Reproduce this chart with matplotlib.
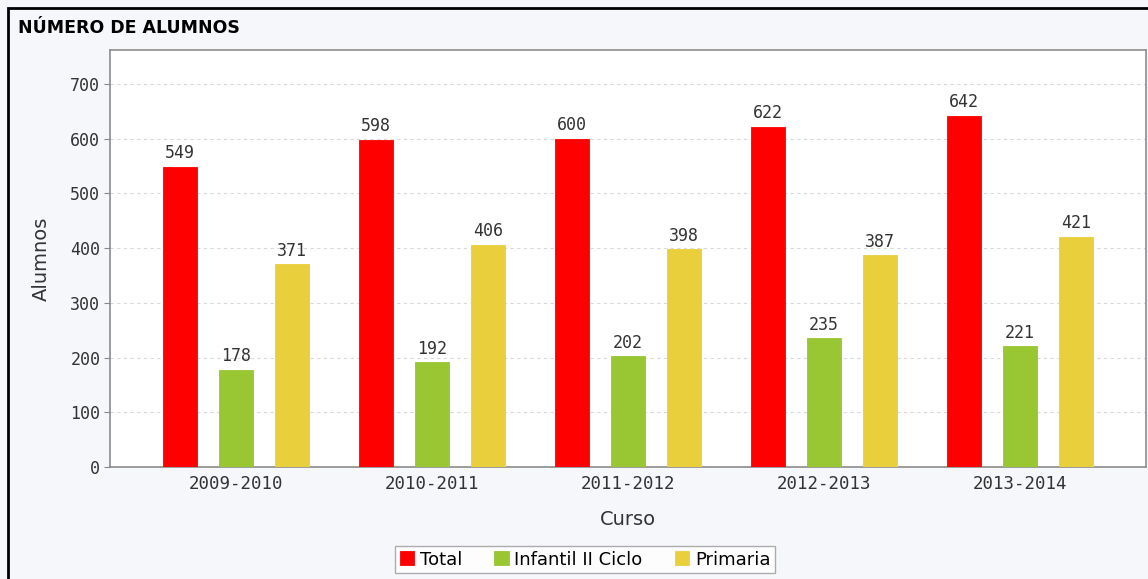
import numpy as np
import matplotlib.pyplot as plt
from matplotlib.patches import Rectangle

cursos = ['2009-2010', '2010-2011', '2011-2012', '2012-2013', '2013-2014']
total = [549, 598, 600, 622, 642]
infantil = [178, 192, 202, 235, 221]
primaria = [371, 406, 398, 387, 421]
series = [('Total', total, '#FF0000'),
          ('Infantil II Ciclo', infantil, '#99C633'),
          ('Primaria', primaria, '#E9CF3C')]

bg = '#F6F7FB'
mono = 'DejaVu Sans Mono'
fig = plt.figure(figsize=(11.48, 5.79), dpi=100, facecolor=bg)
ax = fig.add_axes([110 / 1148, 1 - 467 / 579, 1036 / 1148, 417 / 579])

x = np.arange(len(cursos))
offsets = [-0.285, 0.0, 0.285]
w = 0.174
for (name, vals, col), off in zip(series, offsets):
    bars = ax.bar(x + off, vals, w, color=col, label=name,
                  edgecolor=col, linewidth=0.6, zorder=3)
    for b, v in zip(bars, vals):
        ax.text(b.get_x() + b.get_width() / 2, v + 8, str(v),
                ha='center', va='bottom', fontsize=12, family=mono,
                color='#333333')

ax.set_xlim(-0.643, 4.643)
ax.set_ylim(0, 762)
ax.set_yticks(range(0, 701, 100))
ax.set_xticks(x)
ax.set_xticklabels(cursos, fontsize=12.5, family=mono, color='#333333')
for t in ax.get_yticklabels():
    t.set_family(mono)
ax.tick_params(axis='x', length=0, pad=6)
ax.tick_params(axis='y', length=4, color='#888888', labelsize=12,
               labelcolor='#333333', pad=3)
ax.grid(axis='y', linestyle=(0, (3, 3)), color='#D8D8D8', linewidth=0.8,
        zorder=0)
for s in ax.spines.values():
    s.set_color('#8C8C8C')
    s.set_linewidth(1.2)
ax.set_facecolor('white')

ax.set_ylabel('Alumnos', fontsize=14, color='#333333', labelpad=14)
ax.set_xlabel('Curso', fontsize=14, color='#333333', labelpad=12)

fig.text(18 / 1148, 1 - 28 / 579, 'NÚMERO DE ALUMNOS', fontsize=12.5,
         fontweight='bold', va='center', color='#000000')

# outer frame of the chart panel
fig.patches.append(Rectangle((8 / 1148, -0.1), 1.2, 1 - 8 / 579 + 0.1,
                             transform=fig.transFigure, fill=False,
                             edgecolor='black', linewidth=2))

leg = fig.legend(loc='upper center', bbox_to_anchor=(585 / 1148, 1 - 546 / 579),
                 ncol=3, fontsize=13, frameon=True, fancybox=False,
                 handlelength=0.8, handleheight=0.8, handletextpad=0.3,
                 columnspacing=1.8, borderpad=0.25, borderaxespad=0)
leg.get_frame().set_edgecolor('#999999')
leg.get_frame().set_facecolor('white')
leg.get_frame().set_linewidth(1)

fig.savefig('out.png', dpi=100, facecolor=bg)
